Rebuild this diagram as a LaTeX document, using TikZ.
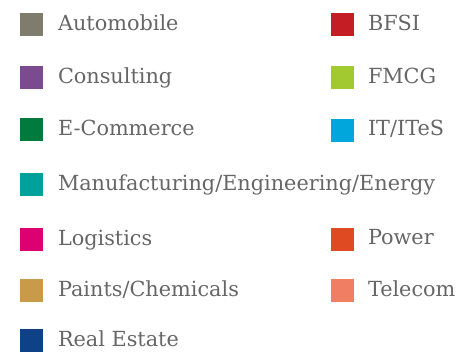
\documentclass[tikz,border=0pt]{standalone}
\usepackage{fontspec}
\setmainfont{DejaVu Serif}
\definecolor{cAuto}{HTML}{7F7C6E}
\definecolor{cCons}{HTML}{7C4A8F}
\definecolor{cEcom}{HTML}{007A3D}
\definecolor{cManu}{HTML}{00A19A}
\definecolor{cLogi}{HTML}{DC0073}
\definecolor{cPaint}{HTML}{C99A4A}
\definecolor{cReal}{HTML}{0F4186}
\definecolor{cBfsi}{HTML}{C41E24}
\definecolor{cFmcg}{HTML}{A2C92F}
\definecolor{cIt}{HTML}{00A6DC}
\definecolor{cPower}{HTML}{E04A23}
\definecolor{cTele}{HTML}{EF7E62}
\definecolor{txtgray}{HTML}{666666}
\tikzset{
  swatch/.style={draw=none, fill=#1, minimum width=23pt, minimum height=23pt, inner sep=0pt, outer sep=0pt},
  label/.style={anchor=base west, inner sep=0pt, outer sep=0pt, text=txtgray, font=\fontsize{20.8}{21}\selectfont}
}
\begin{document}
\begin{tikzpicture}[x=1pt,y=-1pt]
\useasboundingbox (0,0) rectangle (459,352);
% left column
\node[swatch=cAuto]  (s1) at (31.5,24.5) {};
\node[label] (t1) at (58,31) {Automobile};
\node[swatch=cCons]  (s2) at (31.5,77.5) {};
\node[label] (t2) at (58,84) {Consulting};
\node[swatch=cEcom]  (s3) at (31.5,129.5) {};
\node[label] (t3) at (58,136) {E-Commerce};
\node[swatch=cManu]  (s4) at (31.5,184.5) {};
\node[label] (t4) at (58,191) {Manufacturing/Engineering/Energy};
\node[swatch=cLogi]  (s5) at (31.5,239.5) {};
\node[label] (t5) at (58,246) {Logistics};
\node[swatch=cPaint] (s6) at (31.5,290.5) {};
\node[label] (t6) at (58,297) {Paints/Chemicals};
\node[swatch=cReal]  (s7) at (31.5,340.5) {};
\node[label] (t7) at (58,347) {Real Estate};
% right column
\node[swatch=cBfsi]  (r1) at (342.5,24.5) {};
\node[label] (u1) at (368,31) {BFSI};
\node[swatch=cFmcg]  (r2) at (342.5,77.5) {};
\node[label] (u2) at (368,84) {FMCG};
\node[swatch=cIt]    (r3) at (342.5,130.5) {};
\node[label] (u3) at (368,136) {IT/ITeS};
\node[swatch=cPower] (r5) at (342.5,239.5) {};
\node[label] (u5) at (368,245) {Power};
\node[swatch=cTele]  (r6) at (342.5,290.5) {};
\node[label] (u6) at (368,297) {Telecom};
\end{tikzpicture}
\end{document}
